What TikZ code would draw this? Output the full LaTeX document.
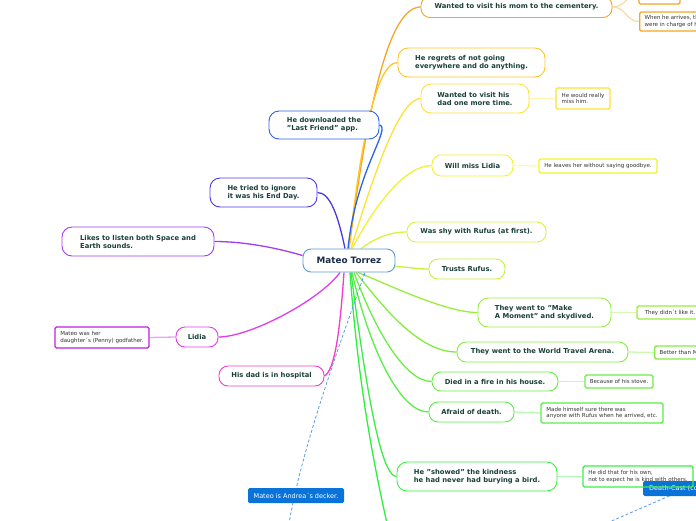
\documentclass[tikz,border=0pt]{standalone}
\usepackage{fontspec}
\setmainfont{DejaVu Sans}
\usetikzlibrary{backgrounds,arrows.meta}
\definecolor{txt}{HTML}{1A4038}
\definecolor{subtxt}{HTML}{333333}
\definecolor{maintxt}{HTML}{1A2B48}
\definecolor{cMain}{HTML}{5B9BD5}
\definecolor{cMom}{HTML}{F5A623}
\definecolor{cReg}{HTML}{FFC425}
\definecolor{cDad}{HTML}{FFE135}
\definecolor{cLid}{HTML}{F2F230}
\definecolor{cShy}{HTML}{D6F53A}
\definecolor{cTru}{HTML}{C4F23C}
\definecolor{cMak}{HTML}{98EE3E}
\definecolor{cWor}{HTML}{82EE3C}
\definecolor{cDie}{HTML}{6AEE46}
\definecolor{cAfr}{HTML}{58EE46}
\definecolor{cSho}{HTML}{3AEE46}
\definecolor{cOff}{HTML}{30EE40}
\definecolor{cDow}{HTML}{2B62E8}
\definecolor{cTri}{HTML}{4A36EE}
\definecolor{cLik}{HTML}{A23CEE}
\definecolor{cLidia}{HTML}{E03CEE}
\definecolor{cLidS}{HTML}{C020E0}
\definecolor{cHos}{HTML}{F03CCB}
\definecolor{cLab}{HTML}{0A73DA}
\definecolor{cDash}{HTML}{5A9BE8}
\newcommand{\childfont}{\bfseries\fontsize{6.8}{8}\selectfont}
\newcommand{\subfont}{\fontsize{5.5}{6.8}\selectfont}
\tikzset{
  mainbox/.style={draw=cMain, line width=0.9pt, rounded corners=8pt, fill=white,
    text=maintxt, font=\bfseries\fontsize{8.8}{10}\selectfont, inner sep=0pt,
    minimum width=92pt, minimum height=23pt},
  childbox/.style={draw=#1, line width=0.9pt, rounded corners=9pt, fill=white,
    text=txt, font=\childfont, align=left, inner sep=0pt},
  subbox/.style={draw=#1, line width=1.4pt, rounded corners=1.5pt, fill=white,
    text=subtxt, font=\subfont, align=left, inner sep=0pt},
  labbox/.style={fill=cLab, rounded corners=1.5pt, text=white,
    font=\fontsize{6.5}{7.5}\selectfont, inner sep=0pt, minimum height=15pt},
  br/.style={line width=1.3pt, draw=#1},
  sbr/.style={line width=1.3pt, draw=#1!40},
  rel/.style={draw=cDash, line width=0.8pt, dash pattern=on 3pt off 2pt},
}
\begin{document}
\begin{tikzpicture}[x=1pt,y=-1pt]
\useasboundingbox (0,0) rectangle (696,520);
\clip (0,0) rectangle (696,520);

% central node
\node[mainbox] (m) at (349,260.5) {Mateo Torrez};

% right children
\node[childbox=cMom, minimum width=191pt, minimum height=21pt] (mom) at (516.5,7) {Wanted to visit his mom to the cementery.};
\node[childbox=cReg, rounded corners=10pt, minimum width=147pt, minimum height=29pt] (reg) at (471.5,62.5) {He regrets of not going\\everywhere and do anything.};
\node[childbox=cDad, rounded corners=10pt, minimum width=108pt, minimum height=29pt] (dad) at (475,98.5) {Wanted to visit his\\dad one more time.};
\node[childbox=cLid, minimum width=81pt, minimum height=21pt] (lid) at (472.5,165.5) {Will miss Lidia};
\node[childbox=cShy, minimum width=139pt, minimum height=20pt] (shy) at (476.5,232) {Was shy with Rufus (at first).};
\node[childbox=cTru, minimum width=76pt, minimum height=20pt] (tru) at (467,269) {Trusts Rufus.};
\node[childbox=cMak, rounded corners=10pt, minimum width=133pt, minimum height=29pt] (mak) at (544.5,312.5) {They went to "Make\\A Moment" and skydived.};
\node[childbox=cWor, minimum width=171pt, minimum height=20pt] (wor) at (542.5,352) {They went to the World Travel Arena.};
\node[childbox=cDie, minimum width=126pt, minimum height=19pt] (die) at (495,381.5) {Died in a fire in his house.};
\node[childbox=cAfr, minimum width=85pt, minimum height=20pt] (afr) at (471.5,412) {Afraid of death.};
\node[childbox=cSho, rounded corners=10pt, minimum width=160pt, minimum height=29pt] (sho) at (477,476.5) {He "showed" the kindness\\he had never had burying a bird.};

% left children
\node[childbox=cDow, rounded corners=10pt, minimum width=110pt, minimum height=28pt] (dow) at (324,125) {He downloaded the\\"Last Friend" app.};
\node[childbox=cTri, rounded corners=10pt, minimum width=107pt, minimum height=29pt] (tri) at (263.5,192.5) {He tried to ignore\\it was his End Day.};
\node[childbox=cLik, rounded corners=10pt, minimum width=152pt, minimum height=29pt] (lik) at (138,241.5) {Likes to listen both Space and\\Earth sounds.};
\node[childbox=cLidia, minimum width=42pt, minimum height=20pt] (lidia) at (197,337) {Lidia};
\node[childbox=cHos, minimum width=105pt, minimum height=20pt] (hos) at (271.5,376) {His dad is in hospital};

% sub nodes
\node[subbox=cMom, minimum width=41pt, minimum height=19pt] (momA) at (659.5,-5.5) {};
\node[subbox=cMom, anchor=west, minimum height=19pt, inner xsep=5pt] (momB) at (639,21.5) {When he arrives, the\\were in charge of her};
\node[subbox=cDad, minimum width=54pt, minimum height=21pt] (dadS) at (583,98.5) {He would really\\miss him.};
\node[subbox=cLid, minimum width=118pt, minimum height=14pt] (lidS) at (598,166) {He leaves her without saying goodbye.};
\node[subbox=cMak, minimum width=66pt, minimum height=13pt] (makS) at (670,312.5) {They didn´t like it.};
\node[subbox=cWor, anchor=west, minimum height=13pt, inner xsep=5pt] (worS) at (654,352.5) {Better than Make A Moment.};
\node[subbox=cDie, minimum width=68pt, minimum height=13pt] (dieS) at (619,381.5) {Because of his stove.};
\node[subbox=cAfr, minimum width=122pt, minimum height=20pt] (afrS) at (602,413) {Made himself sure there was\\anyone with Rufus when he arrived, etc.};
\node[subbox=cLidS, minimum width=94pt, minimum height=21pt] (lidL) at (102,337.5) {Mateo was her\\daughter´s (Penny) godfather.};

% relationship labels
\coordinate (dk0) at (288,530);
\coordinate (dc1) at (720,474);
\coordinate (dc2) at (600,526);
\coordinate (g0) at (392,545);
\node[labbox, minimum width=96pt] (dk) at (296,495.5) {Mateo is Andrea´s decker.};
\node[labbox, anchor=west, inner xsep=6pt] (dc) at (643,488.5) {Death-Cast (company)};
\node[subbox=cSho, fill=none, minimum width=110pt, minimum height=21pt] (shoS) at (638,476.5) {He did that for his own,\\not to expect he is kind with others.};

\begin{pgfonlayer}{background}
% right branches
\draw[br=cMom] (m.north) .. controls (365,130) and (385,7) .. (mom.west);
\draw[br=cReg] (m.north) .. controls (360,150) and (375,62.5) .. (reg.west);
\draw[br=cDad] ([xshift=2pt]m.north) .. controls (375,170) and (400,98.5) .. (dad.west);
\draw[br=cLid] ([xshift=3pt]m.north) .. controls (375,205) and (405,165.5) .. (lid.west);
\draw[br=cShy] ([xshift=12pt]m.north) .. controls (375,238) and (390,232) .. (shy.west);
\draw[br=cTru] ([yshift=-6pt]m.east) .. controls (410,267) and (415,269) .. (tru.west);
\draw[br=cMak] ([xshift=9pt]m.south) .. controls (385,283) and (445,312.5) .. (mak.west);
\draw[br=cWor] ([xshift=7pt]m.south) .. controls (385,310) and (420,352) .. (wor.west);
\draw[br=cDie] ([xshift=5pt]m.south) .. controls (375,330) and (405,381.5) .. (die.west);
\draw[br=cAfr] ([xshift=3pt]m.south) .. controls (370,350) and (400,412) .. (afr.west);
\draw[br=cSho] ([xshift=2pt]m.south) .. controls (365,380) and (380,476.5) .. (sho.west);
\draw[br=cOff] ([xshift=1pt]m.south) .. controls (358,380) and (372,460) .. (g0);
% left branches
\draw[br=cDow] ([xshift=-1pt]m.north) .. controls (356,170) and (392,128) .. (dow.east);
\draw[br=cTri] ([xshift=-4pt]m.north) .. controls (338,215) and (330,192.5) .. (tri.east);
\draw[br=cLik] ([yshift=5pt]m.west) .. controls (270,246) and (240,241.5) .. (lik.east);
\draw[br=cLidia] ([xshift=-9pt]m.south) .. controls (320,300) and (250,337) .. (lidia.east);
\draw[br=cHos] ([xshift=-5pt]m.south) .. controls (340,330) and (335,370) .. (hos.east);
% sub branches
\draw[sbr=cMom] (mom.east) .. controls (626,7) and (626,-5.5) .. (momA.west);
\draw[sbr=cMom] (mom.east) .. controls (626,7) and (626,21.5) .. (momB.west);
\draw[sbr=cDad] (dad.east) -- (dadS.west);
\draw[sbr=cLid] (lid.east) -- (lidS.west);
\draw[sbr=cMak] (mak.east) -- (makS.west);
\draw[sbr=cWor] (wor.east) -- (worS.west);
\draw[sbr=cDie] (die.east) -- (dieS.west);
\draw[sbr=cAfr] (afr.east) -- (afrS.west);
\draw[sbr=cSho] (sho.east) -- (shoS.west);
\draw[sbr=cLidS] (lidia.west) -- (lidL.east);
% relationships
\draw[rel, -{Stealth[length=3.5pt,width=3pt]}] (dk0) .. controls (300,450) and (345,330) .. ([xshift=16pt]m.south);
\draw[rel] (dc1) -- (dc2);
\end{pgfonlayer}
\end{tikzpicture}
\end{document}
